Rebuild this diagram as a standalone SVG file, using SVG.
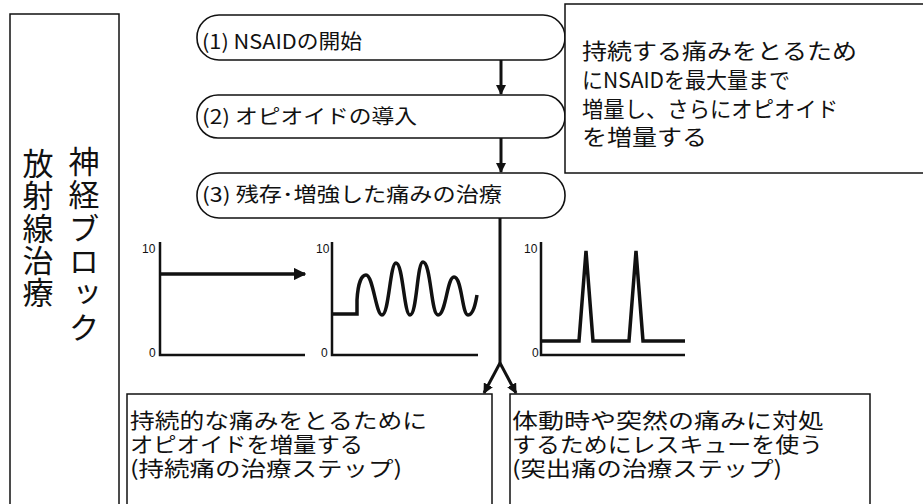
<svg xmlns="http://www.w3.org/2000/svg" width="923" height="504" viewBox="0 0 923 504">
<defs>
<style>
.box{fill:#fff;stroke:#111;stroke-width:1.5}
.pill{fill:#fff;stroke:#111;stroke-width:1.6}
.t{font-family:"Noto Sans CJK JP","Liberation Sans",sans-serif;fill:#111}
.vt{font-family:"Noto Sans CJK JP",sans-serif;font-size:31px;fill:#111;writing-mode:vertical-rl}
.ax{fill:none;stroke:#111;stroke-width:2.5}
.curve{fill:none;stroke:#111;stroke-width:3.5;stroke-linejoin:miter}
.num{font-family:"Liberation Sans",sans-serif;font-size:12px;fill:#111}
.conn{fill:none;stroke:#111;stroke-width:3}
</style>
<marker id="ah" viewBox="0 0 10 10" refX="9" refY="5" markerWidth="3.4" markerHeight="3.4" orient="auto" markerUnits="strokeWidth">
<path d="M0,0 L10,5 L0,10 z" fill="#111"/>
</marker>
<marker id="ahg" viewBox="0 0 10 10" refX="9" refY="5" markerWidth="3.6" markerHeight="3.6" orient="auto" markerUnits="strokeWidth">
<path d="M0,0 L10,5 L0,10 z" fill="#111"/>
</marker>
</defs>
<rect width="923" height="504" fill="#fff"/>

<g id="left-box">
<rect class="box" x="10" y="14" width="109" height="510"/>
<text class="vt" x="38" y="148" letter-spacing="1.2">放射線治療</text>
<text class="vt" x="84" y="146" letter-spacing="2.2">神経ブロック</text>
</g>

<g id="step1">
<rect class="pill" x="197" y="15" width="368" height="45" rx="22" ry="22"/>
<text class="t" x="202" y="49" font-size="20" textLength="160" lengthAdjust="spacingAndGlyphs">(1) NSAIDの開始</text>
</g>
<g id="step2">
<rect class="pill" x="197" y="95" width="368" height="43" rx="21" ry="21"/>
<text class="t" x="202" y="124" font-size="20" textLength="215" lengthAdjust="spacingAndGlyphs">(2) オピオイドの導入</text>
</g>
<g id="step3">
<rect class="pill" x="197" y="173" width="368" height="45" rx="22" ry="22"/>
<text class="t" x="202" y="202" font-size="20" textLength="300" lengthAdjust="spacingAndGlyphs">(3) 残存･増強した痛みの治療</text>
</g>

<g id="note-box">
<rect class="box" x="565" y="4" width="370" height="169"/>
<text class="t" font-size="21.5">
<tspan x="582" y="59" textLength="275" lengthAdjust="spacingAndGlyphs">持続する痛みをとるため</tspan>
<tspan x="582" y="88" textLength="208" lengthAdjust="spacingAndGlyphs">にNSAIDを最大量まで</tspan>
<tspan x="582" y="117" textLength="256" lengthAdjust="spacingAndGlyphs">増量し、さらにオピオイド</tspan>
<tspan x="582" y="145" textLength="125" lengthAdjust="spacingAndGlyphs">を増量する</tspan>
</text>
</g>

<g id="graph-persistent">
<path class="ax" d="M160,242 V355 H305"/>
<line x1="160" y1="274" x2="305" y2="274" stroke="#111" stroke-width="3.5" marker-end="url(#ahg)"/>
<text class="num" x="142" y="253">10</text>
<text class="num" x="149" y="357">0</text>
</g>

<g id="graph-fluctuating">
<path class="ax" d="M332,242 V355 H478"/>
<path class="curve" d="M332,314 H357 V300 C358,282 362,275 366,275 C373,275 376,315 382,315 C389,315 390,263 396,263 C403,263 404,315 410,315 C417,315 417,262 423,262 C431,262 431,315 438,315 C446,315 447,277 454,277 C462,277 462,315 468,315 C474,315 476,300 477,295"/>
<text class="num" x="316" y="253">10</text>
<text class="num" x="321" y="357">0</text>
</g>

<g id="graph-breakthrough">
<path class="ax" d="M541,242 V355 H685"/>
<path class="curve" d="M541,341 H579 L586,251 L593,341 H629 L636,251 L643,341 H685"/>
<text class="num" x="524" y="253">10</text>
<text class="num" x="532" y="357">0</text>
</g>

<g id="connectors">
<line class="conn" x1="501" y1="60" x2="501" y2="94" marker-end="url(#ah)"/>
<line class="conn" x1="501" y1="138" x2="501" y2="172" marker-end="url(#ah)"/>
<path class="conn" d="M500,218 V363"/>
<line class="conn" x1="500" y1="363" x2="484" y2="393" marker-end="url(#ah)"/>
<line class="conn" x1="500" y1="363" x2="516" y2="393" marker-end="url(#ah)"/>
</g>

<g id="persistent-box">
<rect class="box" x="127" y="394" width="365" height="130"/>
<text class="t" font-size="21">
<tspan x="130" y="428" textLength="297" lengthAdjust="spacingAndGlyphs">持続的な痛みをとるために</tspan>
<tspan x="130" y="452" textLength="233" lengthAdjust="spacingAndGlyphs">オピオイドを増量する</tspan>
<tspan x="130" y="476" textLength="272" lengthAdjust="spacingAndGlyphs">(持続痛の治療ステップ)</tspan>
</text>
</g>

<g id="breakthrough-box">
<rect class="box" x="510" y="394" width="360" height="130"/>
<text class="t" font-size="21">
<tspan x="512" y="428" textLength="312" lengthAdjust="spacingAndGlyphs">体動時や突然の痛みに対処</tspan>
<tspan x="512" y="452" textLength="311" lengthAdjust="spacingAndGlyphs">するためにレスキューを使う</tspan>
<tspan x="512" y="476" textLength="270" lengthAdjust="spacingAndGlyphs">(突出痛の治療ステップ)</tspan>
</text>
</g>
</svg>
